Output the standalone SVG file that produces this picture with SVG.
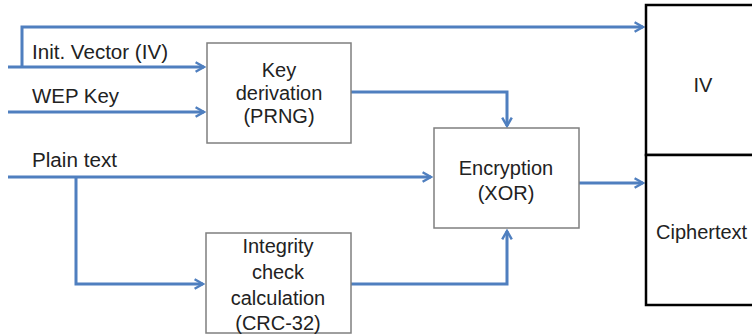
<svg xmlns="http://www.w3.org/2000/svg" width="752" height="335" viewBox="0 0 752 335">
<style>
.box{fill:#fff;stroke:#7f7f7f;stroke-width:1.5}
.out{fill:#fff;stroke:#000;stroke-width:2.5}
.t{font-family:"Liberation Sans",Arial,sans-serif;font-size:20px;fill:#222}
.c{text-anchor:middle}
.ln{fill:none;stroke:#4f7fbf;stroke-width:3;marker-end:url(#ah)}
</style>
<defs>
<marker id="ah" viewBox="0 0 10 10" refX="8" refY="5" markerWidth="4" markerHeight="4" orient="auto" markerUnits="strokeWidth">
<path d="M1,1 L8,5 L1,9" fill="none" stroke="#4f7fbf" stroke-width="2"/>
</marker>
</defs>
<rect width="752" height="335" fill="#fff"/>
<g id="connectors">
<path class="ln" d="M22,67 V27 H643"/>
<path class="ln" d="M8,67 H204"/>
<path class="ln" d="M8,112 H204"/>
<path class="ln" d="M351,92 H507 V126"/>
<path class="ln" d="M8,177 H431"/>
<path class="ln" d="M76,177 V284 H203"/>
<path class="ln" d="M351,284 H507 V231"/>
<path class="ln" d="M579,183 H643"/>
</g>
<g id="label-iv"><text class="t" x="32" y="59" textLength="136" lengthAdjust="spacingAndGlyphs">Init. Vector (IV)</text></g>
<g id="label-wep"><text class="t" x="32" y="103" textLength="87" lengthAdjust="spacingAndGlyphs">WEP Key</text></g>
<g id="label-plain"><text class="t" x="32" y="167" textLength="85" lengthAdjust="spacingAndGlyphs">Plain text</text></g>
<g id="keyderiv">
<rect class="box" x="207" y="43" width="144" height="100"/>
<text class="t c" x="279" y="77">Key</text>
<text class="t c" x="279" y="100">derivation</text>
<text class="t c" x="279" y="123">(PRNG)</text>
</g>
<g id="encryption">
<rect class="box" x="434" y="128" width="145" height="100"/>
<text class="t c" x="506" y="175">Encryption</text>
<text class="t c" x="506" y="200">(XOR)</text>
</g>
<g id="integrity">
<rect class="box" x="206" y="233" width="145" height="100"/>
<text class="t c" x="278" y="253">Integrity</text>
<text class="t c" x="278" y="279">check</text>
<text class="t c" x="278" y="305">calculation</text>
<text class="t c" x="278" y="330">(CRC-32)</text>
</g>
<g id="iv-box">
<rect class="out" x="646" y="5" width="120" height="150"/>
<text class="t c" x="703" y="92">IV</text>
</g>
<g id="cipher-box">
<rect class="out" x="646" y="155" width="120" height="150"/>
<text class="t" x="656" y="239">Ciphertext</text>
</g>
</svg>
